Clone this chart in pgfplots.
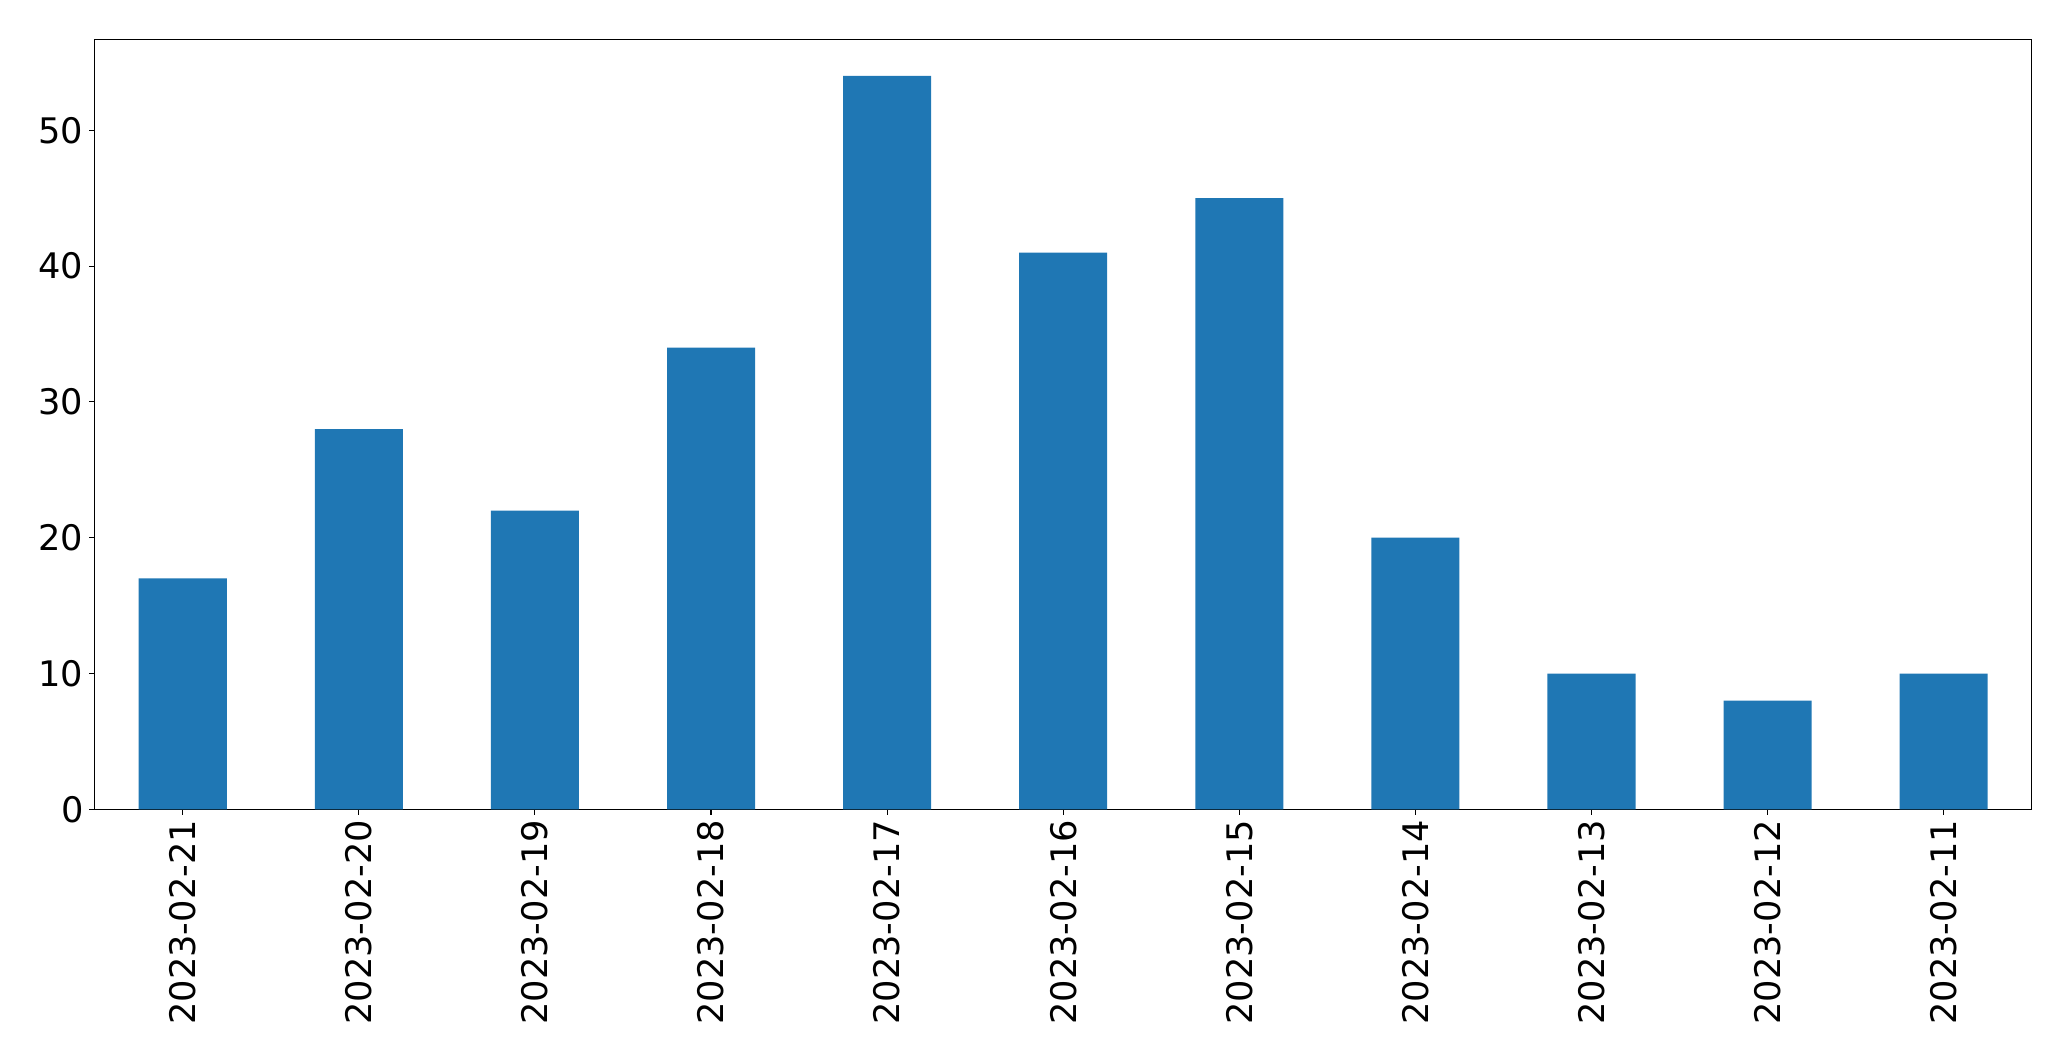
\documentclass[border=0pt]{standalone}
\usepackage{fontspec}
\setmainfont{DejaVu Sans}
\usepackage{pgfplots}
\pgfplotsset{compat=1.18}
\definecolor{mplblue}{HTML}{1F77B4}
\begin{document}
\fontsize{17.6pt}{21pt}\selectfont
\begin{tikzpicture}
\begin{axis}[
  scale only axis,
  width=968.5pt, height=385pt,
  xmin=-0.5, xmax=10.5,
  ymin=0, ymax=56.7,
  xtick={0,...,10},
  xticklabels={2023-02-21,2023-02-20,2023-02-19,2023-02-18,2023-02-17,2023-02-16,2023-02-15,2023-02-14,2023-02-13,2023-02-12,2023-02-11},
  ytick={0,10,20,30,40,50},
  tick align=outside,
  major tick length=2.65pt,
  tick style={line width=0.55pt, black},
  axis line style={line width=0.55pt},
  xtick pos=bottom, ytick pos=left,
  /pgf/number format/assume math mode=true,
  every tick label/.append style={inner sep=0pt, font=\fontsize{17.6pt}{21pt}\selectfont},
  xticklabel style={rotate=90, anchor=east, xshift=-2.5pt},
  yticklabel style={anchor=east, xshift=-2.8pt},
]
\addplot[ybar, bar width=0.5, fill=mplblue, draw=none] coordinates {
(0,17) (1,28) (2,22) (3,34) (4,54) (5,41) (6,45) (7,20) (8,10) (9,8) (10,10)
};
\end{axis}
\pgfresetboundingbox
\path[use as bounding box] (-47.35pt,-125.85pt) rectangle (988.15pt,404.65pt);
\end{tikzpicture}
\end{document}
